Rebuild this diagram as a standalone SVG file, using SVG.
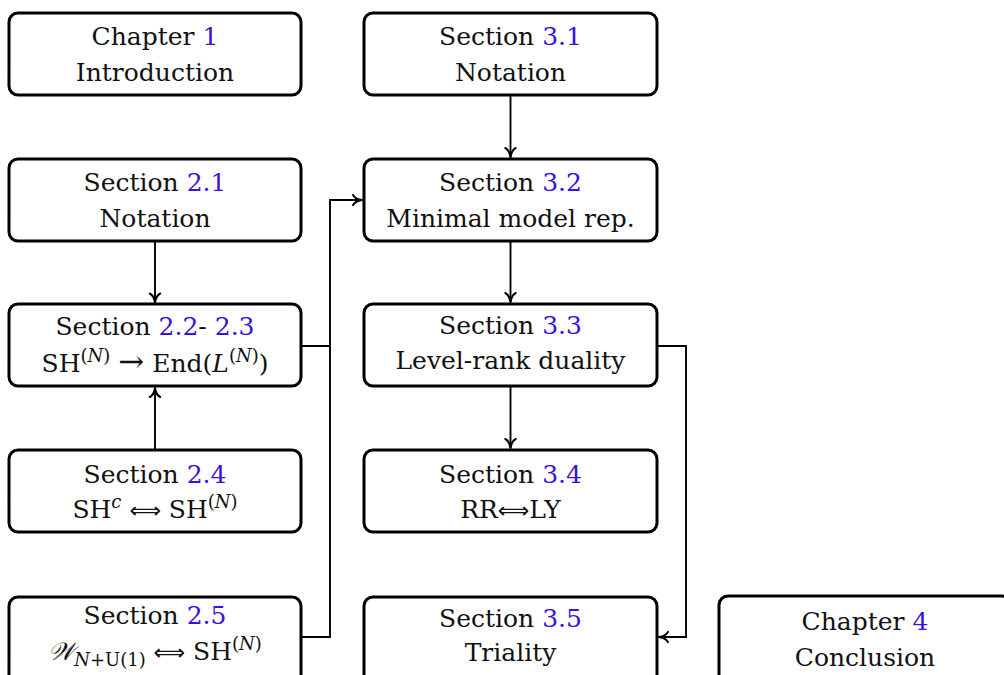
<svg xmlns="http://www.w3.org/2000/svg" width="1004" height="675" viewBox="0 0 1004 675">
<style>
.box{fill:#fff;stroke:#000;stroke-width:3}
.t{font-family:"DejaVu Serif","Liberation Serif",serif;font-size:25px;fill:#111;text-anchor:middle}
.l{fill:#3a10e5}
.i{font-style:italic}
.s{font-size:18px}
.r{font-size:31px}
.a{font-family:"DejaVu Sans","Noto Sans",sans-serif;font-size:22px}
.c{fill:none;stroke:#000;stroke-width:1.9}
</style>
<defs>
<marker id="ah" markerWidth="14" markerHeight="14" viewBox="-11 -7 14 14" refX="0" refY="0" orient="auto" markerUnits="userSpaceOnUse">
<path d="M-9,-5.2 C-7.5,-2 -3,-0.5 0,0 C-3,0.5 -7.5,2 -9,5.2" fill="none" stroke="#000" stroke-width="2" stroke-linecap="round" stroke-linejoin="round"/>
</marker>
</defs>
<g id="connectors">
<path class="c" d="M155,241 V302.5" marker-end="url(#ah)"/>
<path class="c" d="M155,450 V388" marker-end="url(#ah)"/>
<path class="c" d="M510.5,95 V157" marker-end="url(#ah)"/>
<path class="c" d="M510.5,241 V302" marker-end="url(#ah)"/>
<path class="c" d="M510.5,386 V448" marker-end="url(#ah)"/>
<path class="c" d="M301,346 H330 V200 H362" marker-end="url(#ah)"/>
<path class="c" d="M301,637 H330 V346"/>
<path class="c" d="M657,346 H686 V637 H659" marker-end="url(#ah)"/>
</g>
<g id="ch1">
<rect class="box" x="9" y="13" width="292" height="82" rx="9"/>
<text class="t" x="155" y="45">Chapter <tspan class="l">1</tspan></text>
<text class="t" x="155" y="81">Introduction</text>
</g>
<g id="s21">
<rect class="box" x="9" y="159" width="292" height="82" rx="9"/>
<text class="t" x="155" y="191">Section <tspan class="l">2.1</tspan></text>
<text class="t" x="155" y="227">Notation</text>
</g>
<g id="s22">
<rect class="box" x="9" y="304" width="292" height="82" rx="9"/>
<text class="t" x="155" y="335">Section <tspan class="l">2.2</tspan>- <tspan class="l">2.3</tspan></text>
<text class="t" x="155" y="372">SH<tspan class="s" dy="-10">(<tspan class="i">N</tspan>)</tspan><tspan dy="10"> </tspan><tspan class="r">→</tspan> End(<tspan class="i">L</tspan><tspan class="s" dy="-10">(<tspan class="i">N</tspan>)</tspan><tspan dy="10">)</tspan></text>
</g>
<g id="s24">
<rect class="box" x="9" y="450" width="292" height="82" rx="9"/>
<text class="t" x="155" y="483">Section <tspan class="l">2.4</tspan></text>
<text class="t" x="155" y="518">SH<tspan class="s i" dy="-10">c</tspan><tspan dy="10"> </tspan><tspan class="a">⟺</tspan> SH<tspan class="s" dy="-10">(<tspan class="i">N</tspan>)</tspan></text>
</g>
<g id="s25">
<rect class="box" x="9" y="597" width="292" height="100" rx="9"/>
<text class="t" x="155" y="624">Section <tspan class="l">2.5</tspan></text>
<text class="t" x="155" y="660"><tspan class="i">𝒲</tspan><tspan class="s" dy="6"><tspan class="i">N</tspan>+U(1)</tspan><tspan dy="-6"> </tspan><tspan class="a">⟺</tspan> SH<tspan class="s" dy="-10">(<tspan class="i">N</tspan>)</tspan></text>
</g>
<g id="s31">
<rect class="box" x="364" y="13" width="293" height="82" rx="9"/>
<text class="t" x="510.5" y="45">Section <tspan class="l">3.1</tspan></text>
<text class="t" x="510.5" y="81">Notation</text>
</g>
<g id="s32">
<rect class="box" x="364" y="159" width="293" height="82" rx="9"/>
<text class="t" x="510.5" y="191">Section <tspan class="l">3.2</tspan></text>
<text class="t" x="510.5" y="227">Minimal model rep.</text>
</g>
<g id="s33">
<rect class="box" x="364" y="304" width="293" height="82" rx="9"/>
<text class="t" x="510.5" y="334">Section <tspan class="l">3.3</tspan></text>
<text class="t" x="510.5" y="369">Level-rank duality</text>
</g>
<g id="s34">
<rect class="box" x="364" y="450" width="293" height="82" rx="9"/>
<text class="t" x="510.5" y="483">Section <tspan class="l">3.4</tspan></text>
<text class="t" x="510.5" y="518">RR<tspan class="a">⟺</tspan>LY</text>
</g>
<g id="s35">
<rect class="box" x="364" y="597" width="293" height="100" rx="9"/>
<text class="t" x="510.5" y="627">Section <tspan class="l">3.5</tspan></text>
<text class="t" x="510.5" y="661">Triality</text>
</g>
<g id="ch4">
<rect class="box" x="719" y="596" width="292" height="100" rx="9"/>
<text class="t" x="865" y="630">Chapter <tspan class="l">4</tspan></text>
<text class="t" x="865" y="666">Conclusion</text>
</g>
</svg>
